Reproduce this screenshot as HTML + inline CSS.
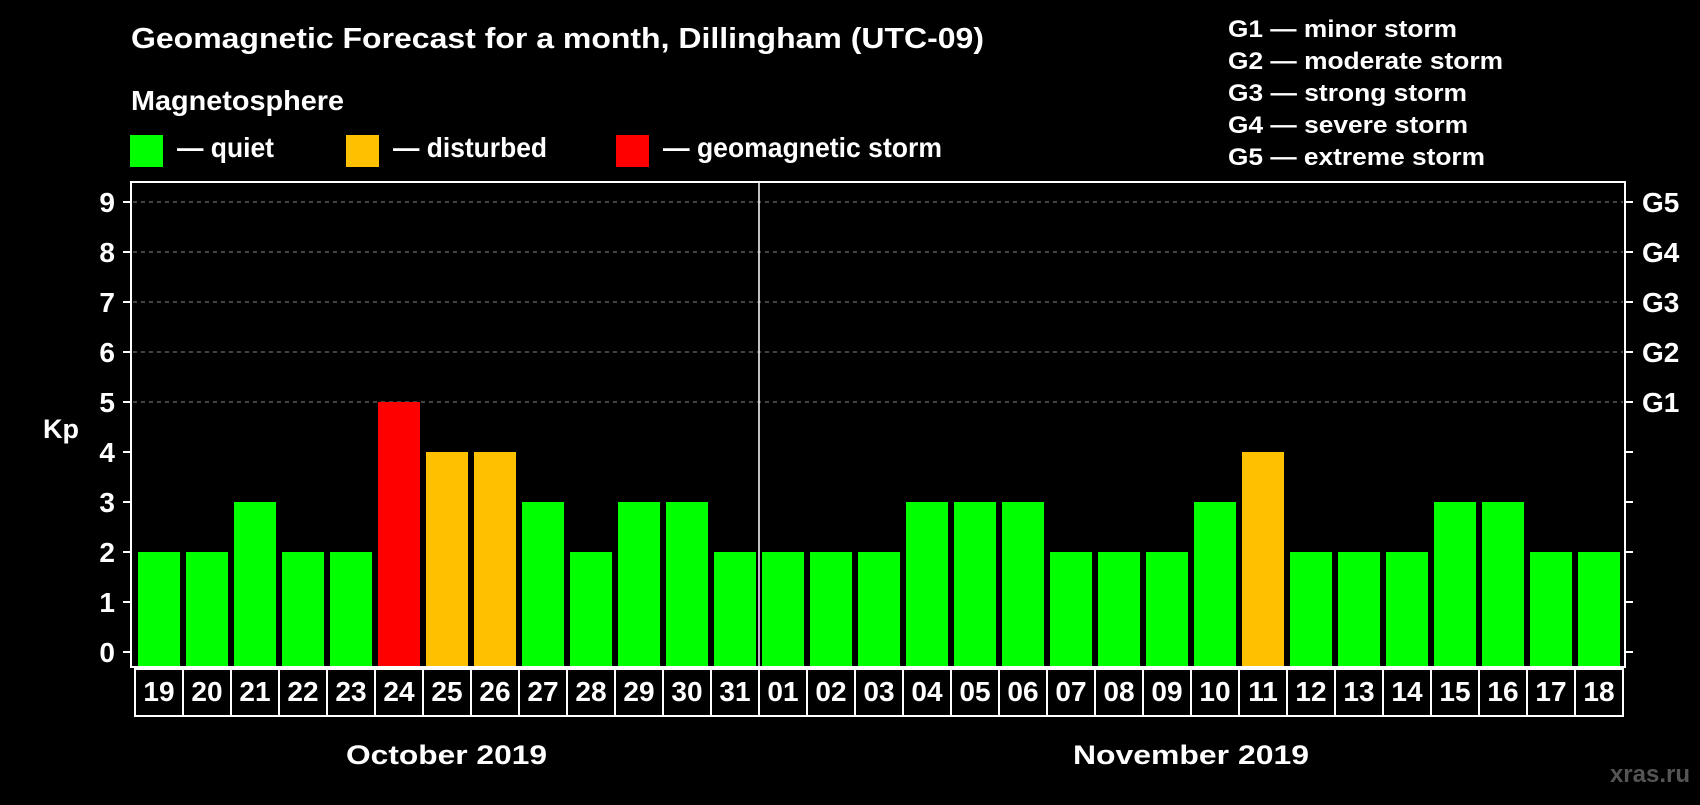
<!DOCTYPE html>
<html><head><meta charset="utf-8"><style>
body{margin:0;background:#000;width:1700px;height:800px;overflow:hidden;font-family:"Liberation Sans",sans-serif;font-weight:bold;color:#fff}
.n{font-family:"Liberation Sans Narrow","Liberation Sans",sans-serif}
</style></head><body>
<svg id="c" width="1700" height="800" xmlns="http://www.w3.org/2000/svg" style="font-family:'Liberation Sans',sans-serif;font-weight:bold">
<text class="n" x="131" y="48" font-size="29" fill="#fff" textLength="853" lengthAdjust="spacingAndGlyphs">Geomagnetic Forecast for a month, Dillingham (UTC-09)</text>
<text class="n" x="131" y="110" font-size="28" fill="#fff" textLength="213" lengthAdjust="spacingAndGlyphs">Magnetosphere</text>
<rect x="130" y="135" width="33" height="32" fill="#00ff00"/>
<text class="n" x="177" y="157" font-size="28" fill="#fff" textLength="97" lengthAdjust="spacingAndGlyphs">— quiet</text>
<rect x="346" y="135" width="33" height="32" fill="#ffc000"/>
<text class="n" x="393" y="157" font-size="28" fill="#fff" textLength="154" lengthAdjust="spacingAndGlyphs">— disturbed</text>
<rect x="616" y="135" width="33" height="32" fill="#ff0000"/>
<text class="n" x="663" y="157" font-size="28" fill="#fff" textLength="279" lengthAdjust="spacingAndGlyphs">— geomagnetic storm</text>
<g font-size="24" fill="#fff">
<text x="1228" y="37" textLength="229" lengthAdjust="spacingAndGlyphs">G1 — minor storm</text>
<text x="1228" y="69" textLength="275" lengthAdjust="spacingAndGlyphs">G2 — moderate storm</text>
<text x="1228" y="101" textLength="239" lengthAdjust="spacingAndGlyphs">G3 — strong storm</text>
<text x="1228" y="133" textLength="240" lengthAdjust="spacingAndGlyphs">G4 — severe storm</text>
<text x="1228" y="165" textLength="257" lengthAdjust="spacingAndGlyphs">G5 — extreme storm</text>
</g>
<text x="43" y="438" font-size="27" fill="#fff">Kp</text>
<text x="346" y="764" font-size="27" fill="#fff" textLength="201" lengthAdjust="spacingAndGlyphs">October 2019</text>
<text x="1073" y="764" font-size="27" fill="#fff" textLength="236" lengthAdjust="spacingAndGlyphs">November 2019</text>
<text x="1690" y="782" font-size="24" fill="#555" text-anchor="end">xras.ru</text>
<g id="plot"></g>
</svg>
<script>
const days=["19","20","21","22","23","24","25","26","27","28","29","30","31","01","02","03","04","05","06","07","08","09","10","11","12","13","14","15","16","17","18"];
const kp=[2,2,3,2,2,5,4,4,3,2,3,3,2,2,2,2,3,3,3,2,2,2,3,4,2,2,2,3,3,2,2];
const yTicks=[0,1,2,3,4,5,6,7,8,9];
const gLabels=["G1","G2","G3","G4","G5"];
const NS="http://www.w3.org/2000/svg";
const g=document.getElementById('plot');
const L=131,R=1625,T=182,B=667;
const y=v=>652-v*(450/9);
const step=48,x0=138,bw=42;
const x=i=>x0+i*step;
function mk(t,a){const e=document.createElementNS(NS,t);for(const k in a)e.setAttribute(k,a[k]);g.appendChild(e);return e;}
yTicks.forEach(v=>{
 if(v>=5){const l=mk('line',{x1:L+2,x2:R-2,y1:y(v),y2:y(v),stroke:'#888','stroke-width':1,'stroke-dasharray':'4,4'});
 
 }
 const t1=mk('line',{x1:L-8,x2:L,y1:y(v),y2:y(v),stroke:'#fff','stroke-width':2});
 
 
 const t2=mk('line',{x1:R,x2:R+8,y1:y(v),y2:y(v),stroke:'#fff','stroke-width':2});
 
 
 const tx=mk('text',{x:115,y:y(v)+10,'font-size':28,fill:'#fff','text-anchor':'end'});tx.textContent=v;
 
 
});
gLabels.forEach((s,i)=>{
 const tx=mk('text',{x:1642,y:y(5+i)+10,'font-size':28,fill:'#fff'});tx.textContent=s;
 
 
});
kp.forEach((v,i)=>{
 const c=v>=5?'#ff0000':v>=4?'#ffc000':'#00ff00';
 const r=mk('rect',{x:x(i),y:y(v),width:bw,height:B-y(v),fill:c});
 
 
});
const fr=mk('rect',{x:L,y:T,width:R-L,height:B-T,fill:'none',stroke:'#fff','stroke-width':2});


const sep=mk('line',{x1:x(13)-3,x2:x(13)-3,y1:T,y2:B,stroke:'#fff','stroke-width':1.5});


days.forEach((d,i)=>{
 const bx=mk('rect',{x:x(i)-3,y:669,width:step,height:47,fill:'none',stroke:'#fff','stroke-width':2});
 
 
 const t=mk('text',{x:x(i)-3+step/2,y:701,'font-size':28,fill:'#fff','text-anchor':'middle'});t.textContent=d;
 
 
});
</script>
</body></html>
